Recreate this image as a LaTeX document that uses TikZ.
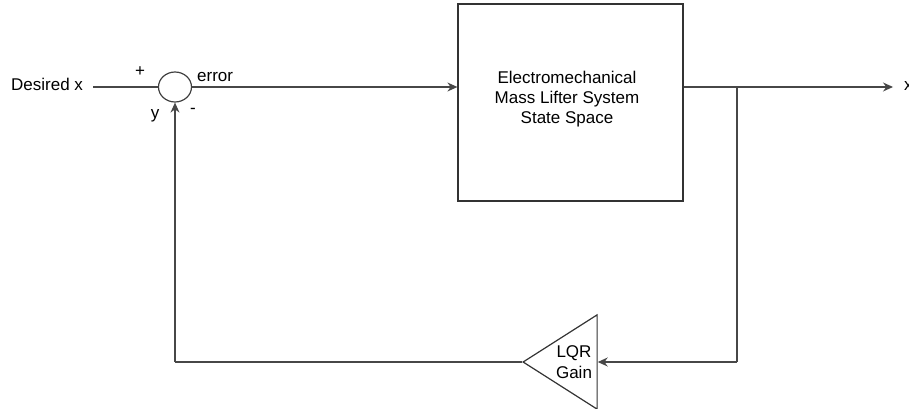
\documentclass[tikz,border=0pt]{standalone}
\usepackage{fontspec}
\setmainfont{Liberation Sans}
\usetikzlibrary{arrows.meta,shapes.geometric}
\tikzset{
  lbl/.style={inner sep=0pt,font=\fontsize{17}{20}\selectfont},
  wire/.style={draw=black!72,line width=1.2pt},
  arr/.style={wire,-{Stealth[length=10pt,width=9pt]}},
}
\begin{document}
\begin{tikzpicture}[x=1pt,y=-1pt]
\useasboundingbox (0,0) rectangle (909,409);
\node[lbl,anchor=west] (dx) at (11,84) {Desired x};
\coordinate (in) at (93,87);
\node[draw=black!75,line width=1.2pt,ellipse,minimum width=33pt,minimum height=30pt,inner sep=0pt] (sum) at (175,87) {};
\node[lbl] (plus) at (140,72) {+};
\node[lbl,anchor=west] (err) at (197,77) {error};
\node[lbl] (yl) at (155,116) {y};
\node[lbl] (minus) at (193,111) {-};
\node[draw=black!80,line width=1.2pt,minimum width=225pt,minimum height=197pt,inner sep=0pt] (sys) at (570.5,102.5) {};
\node[lbl,align=center] (syst) at (567,99) {Electromechanical\\Mass Lifter System\\State Space};
\coordinate (out) at (893,87);
\node[lbl,anchor=west] (xo) at (904,86) {x};
\coordinate (br) at (737,87);
\coordinate (brd) at (737,362);
\node[draw=black!80,line width=1.2pt,isosceles triangle,shape border rotate=180,isosceles triangle apex angle=65,minimum height=74pt,inner sep=0pt,anchor=apex] (lqr) at (522,362) {};
\node[lbl,align=center,font=\fontsize{17}{21}\selectfont] (lqrt) at (574,362) {LQR\\Gain};
\coordinate (lc) at (175,362);
\draw[wire] (in) -- (sum.west);
\draw[arr] (sum.east) -- (sys.west |- sum.east);
\draw[arr] (sys.east |- out) -- (out);
\draw[wire] (br) -- (brd);
\draw[arr] (brd) -- (lqr.east |- brd);
\draw[wire] (lqr.apex) -- (lc);
\draw[arr] (lc) -- (sum.south);
\end{tikzpicture}
\end{document}
